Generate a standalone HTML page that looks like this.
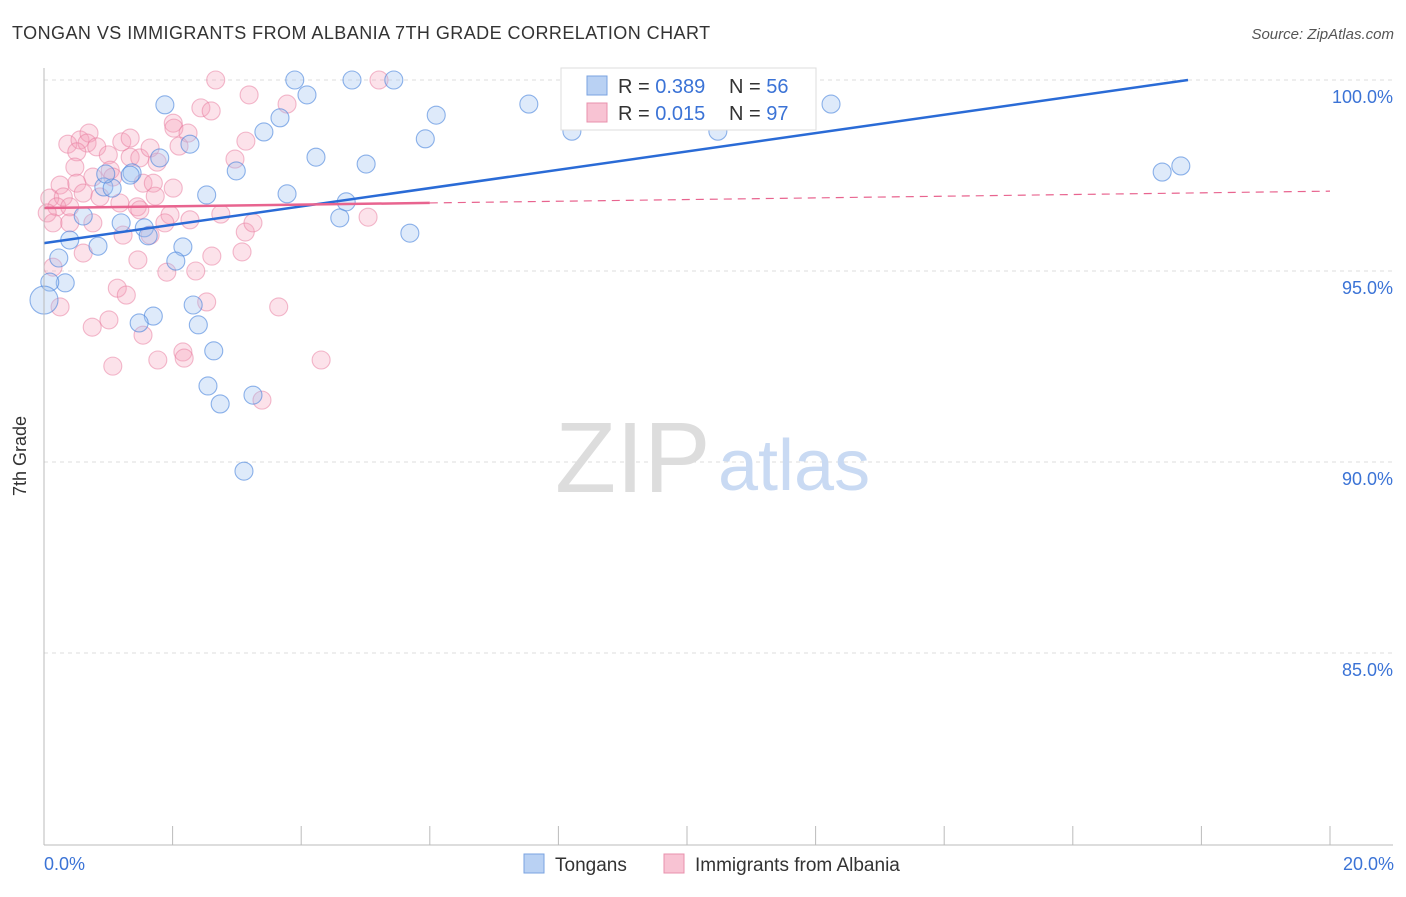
<!DOCTYPE html>
<html><head><meta charset="utf-8"><style>
body{margin:0;background:#fff;font-family:"Liberation Sans",sans-serif}
svg text{font-family:"Liberation Sans",sans-serif}
</style></head><body>
<svg id="chart" width="1406" height="892" xmlns="http://www.w3.org/2000/svg">
<text x="12" y="39" font-size="18" fill="#333" letter-spacing="0.45">TONGAN VS IMMIGRANTS FROM ALBANIA 7TH GRADE CORRELATION CHART</text>
<text x="1394" y="39" font-size="15" fill="#555" text-anchor="end" font-style="italic">Source: ZipAtlas.com</text>
<g id="grid"></g>
<text x="555" y="492" font-size="100" fill="#ddd" font-family="Liberation Serif">ZIP</text>
<text x="718" y="490" font-size="72" fill="#c9daf3">atlas</text>
<g id="pts"></g>
<g id="lines"></g>
<line x1="44" y1="68" x2="44" y2="845" stroke="#bbb"/>
<line x1="44" y1="845" x2="1393" y2="845" stroke="#bbb"/>
<g id="xt"></g>
<text x="26" y="456" font-size="18" fill="#333" transform="rotate(-90 26 456)" text-anchor="middle">7th Grade</text>
<text x="44" y="870" font-size="18" fill="#3b73d6">0.0%</text>
<text x="1394" y="870" font-size="18" fill="#3b73d6" text-anchor="end">20.0%</text>
<g>
<rect x="561" y="68" width="255" height="62" fill="#fff" stroke="#ddd"/>
<rect x="587" y="76" width="20" height="19" fill="#b9d1f3" stroke="#7aa3e0"/>
<rect x="587" y="103" width="20" height="19" fill="#f8c3d3" stroke="#e890ad"/>
<text y="93" font-size="20" fill="#333"><tspan x="618">R = </tspan><tspan fill="#3b73d6">0.389</tspan><tspan x="729">N = </tspan><tspan fill="#3b73d6">56</tspan></text>
<text y="120" font-size="20" fill="#333"><tspan x="618">R = </tspan><tspan fill="#3b73d6">0.015</tspan><tspan x="729">N = </tspan><tspan fill="#3b73d6">97</tspan></text>
</g>
<g>
<rect x="524" y="854" width="20" height="19" fill="#b9d1f3" stroke="#7aa3e0"/>
<text x="555" y="871" font-size="19" fill="#333">Tongans</text>
<rect x="664" y="854" width="20" height="19" fill="#f8c3d3" stroke="#e890ad"/>
<text x="695" y="871" font-size="19" fill="#333">Immigrants from Albania</text>
</g>
</svg>
<script>
const yTicks=[100,95,90,85];
const yTickLabels=["100.0%","95.0%","90.0%","85.0%"];
const xTickVals=[0,2,4,6,8,10,12,14,16,18,20];
const blueX=[3.90,4.79,5.44,4.09,1.88,7.54,12.24,6.10,3.67,8.21,3.42,5.93,10.48,8.69,4.23,5.01,2.99,1.80,1.37,17.39,17.68,0.93,1.06,2.53,3.78,4.70,0.61,1.20,1.56,1.62,4.60,5.69,0.40,0.84,2.16,0.23,2.05,0.33,0.09,0.0,2.32,1.70,1.48,2.40,2.64,2.55,2.74,3.25,3.11,0.96,2.27,1.34];
const blueY=[100,100,100,99.61,99.35,99.37,99.37,99.08,99.01,98.66,98.64,98.46,98.66,99.01,97.98,97.80,97.62,97.96,97.57,97.59,97.75,97.20,97.17,96.99,97.02,96.81,96.44,96.26,96.13,95.92,96.39,95.99,95.81,95.65,95.63,95.34,95.26,94.69,94.71,94.24,94.11,93.82,93.64,93.59,92.91,91.99,91.52,91.75,89.76,97.54,98.32,97.51];
const pinkX=[2.67,5.21,3.19,3.78,2.44,2.60,2.01,2.02,2.24,2.10,3.14,2.97,0.37,0.56,0.70,0.67,0.82,0.51,1.21,1.34,1.00,1.34,1.49,1.65,1.76,0.48,1.03,0.76,1.07,0.25,0.51,1.54,1.70,2.01,0.61,0.87,0.09,0.30,0.20,0.40,1.18,1.45,1.73,0.05,0.14,0.40,0.76,1.23,1.49,1.65,1.96,1.88,2.27,2.75,5.04,3.13,3.25,0.61,1.46,1.91,2.36,2.61,3.08,0.14,1.14,1.28,0.25,2.53,3.65,0.75,1.01,1.54,2.16,2.18,1.77,1.07,4.31,3.39];
const pinkY=[100,100,99.61,99.37,99.27,99.19,98.87,98.74,98.61,98.27,98.40,97.93,98.32,98.43,98.61,98.35,98.25,98.12,98.38,98.48,98.04,97.98,97.96,98.22,97.85,97.72,97.64,97.46,97.46,97.25,97.30,97.30,97.30,97.17,97.04,96.94,96.91,96.94,96.68,96.68,96.78,96.68,96.96,96.52,96.26,96.26,96.26,95.94,96.60,95.94,96.47,96.26,96.34,96.49,96.41,96.02,96.26,95.47,95.29,94.97,95.00,95.39,95.50,95.10,94.55,94.37,94.06,94.19,94.06,93.53,93.72,93.32,92.88,92.72,92.67,92.51,92.67,91.62];
const blueTrend=[95.73,0.24];
const pinkTrend=[96.65,0.022];
const NS='http://www.w3.org/2000/svg';
const X=v=>44+v*64.3, Y=v=>80+(100-v)*38.2;
function mk(t,a,p){const e=document.createElementNS(NS,t);for(const k in a)e.setAttribute(k,a[k]);document.getElementById(p).appendChild(e);return e;}
yTicks.forEach((t,i)=>{
 const l=mk('line',{x1:44,x2:1393,y1:Y(t),y2:Y(t),stroke:'#ddd','stroke-dasharray':'4,4'},'grid');
 
 
 const tx=mk('text',{x:1393,y:Y(t)+23,'font-size':18,fill:'#3b73d6','text-anchor':'end'},'grid');
 tx.textContent=yTickLabels[i];
 
 
});
xTickVals.forEach(v=>{
 const l=mk('line',{x1:X(v),x2:X(v),y1:826,y2:845,stroke:'#bbb'},'xt');
 
 
});
pinkX.forEach((v,i)=>{
 const c=mk('circle',{cx:X(v),cy:Y(pinkY[i]),r:9,fill:'rgba(244,160,185,0.3)',stroke:'rgba(232,120,155,0.5)','stroke-width':1.1},'pts');
 
 
});
blueX.forEach((v,i)=>{
 const c=mk('circle',{cx:X(v),cy:Y(blueY[i]),r:v===0?14:9,fill:'rgba(160,195,240,0.35)',stroke:'rgba(70,130,220,0.6)','stroke-width':1.1},'pts');
 
 
});
const bx2=(100-blueTrend[0])/blueTrend[1];
let l=mk('line',{x1:X(0),y1:Y(blueTrend[0]),x2:X(bx2),y2:Y(100),stroke:'#2a6bd6','stroke-width':2.5},'lines');


l=mk('line',{x1:X(0),y1:Y(pinkTrend[0]),x2:X(6),y2:Y(pinkTrend[0]+6*pinkTrend[1]),stroke:'#e8648f','stroke-width':2.5},'lines');


l=mk('line',{x1:X(6),y1:Y(pinkTrend[0]+6*pinkTrend[1]),x2:X(20),y2:Y(pinkTrend[0]+20*pinkTrend[1]),stroke:'#e8648f','stroke-width':1.2,'stroke-dasharray':'8,6'},'lines');


</script>
</body></html>
